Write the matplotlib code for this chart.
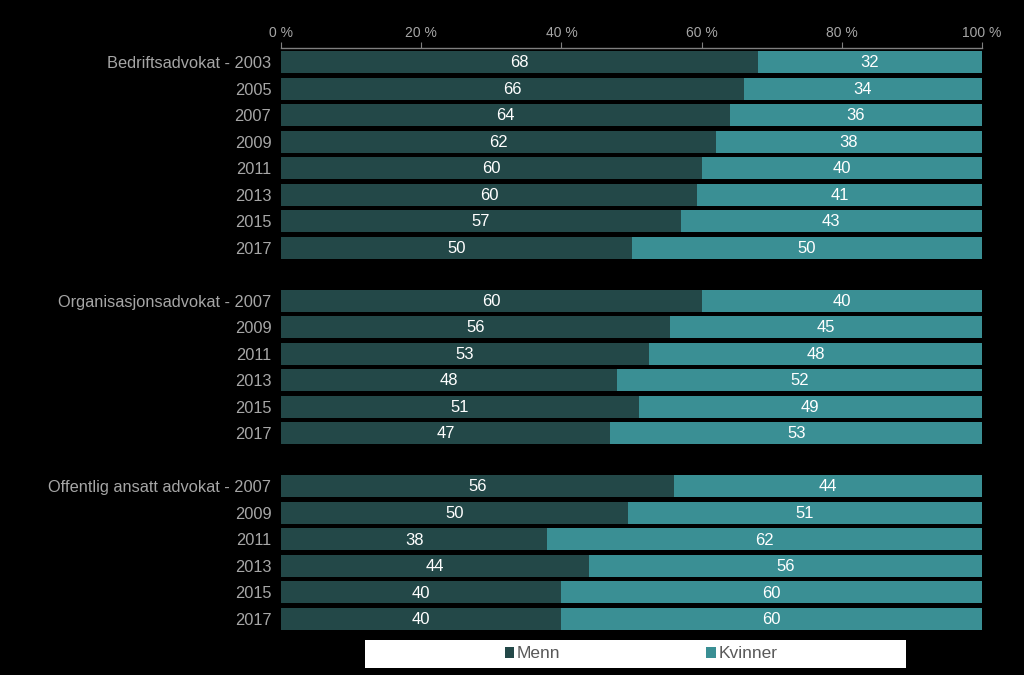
import matplotlib
matplotlib.use("Agg")
import matplotlib.pyplot as plt
from matplotlib.patches import Rectangle, Patch
import numpy as np

plt.rcParams['font.family'] = ['Liberation Sans', 'DejaVu Sans']

groups = ["Bedriftsadvokat", "Organisasjonsadvokat", "Offentlig ansatt advokat"]
years_bedrift = ["2003", "2005", "2007", "2009", "2011", "2013", "2015", "2017"]
menn_bedrift = [68, 66, 64, 62, 60, 60, 57, 50]
kvinner_bedrift = [32, 34, 36, 38, 40, 41, 43, 50]
years_org = ["2007", "2009", "2011", "2013", "2015", "2017"]
menn_org = [60, 56, 53, 48, 51, 47]
kvinner_org = [40, 45, 48, 52, 49, 53]
years_off = ["2007", "2009", "2011", "2013", "2015", "2017"]
menn_off = [56, 50, 38, 44, 40, 40]
kvinner_off = [44, 51, 62, 56, 60, 60]
xticks = [0, 20, 40, 60, 80, 100]
xticklabels = ["0 %", "20 %", "40 %", "60 %", "80 %", "100 %"]

c_menn = "#234848"
c_kvinner = "#3A8F94"
c_text = "#A6A6A6"

fig = plt.figure(figsize=(10.24, 6.75), dpi=100, facecolor="black")
ax = fig.add_axes([281/1024, 1-632/675, (982-281)/1024, (632-48)/675])
ax.set_facecolor("black")

pos = 0
ypos, labels, mv, kv = [], [], [], []
for gname, yrs, m, k in [(groups[0], years_bedrift, menn_bedrift, kvinner_bedrift),
                          (groups[1], years_org, menn_org, kvinner_org),
                          (groups[2], years_off, menn_off, kvinner_off)]:
    for i, (y, a, b) in enumerate(zip(yrs, m, k)):
        ypos.append(pos)
        labels.append(f"{gname} - {y}" if i == 0 else y)
        mv.append(a)
        kv.append(b)
        pos += 1
    pos += 1

mv = np.array(mv, float)
kv = np.array(kv, float)
tot = mv + kv
mp = mv / tot * 100
kp = kv / tot * 100

h = 0.83
ax.barh(ypos, mp, height=h, color=c_menn, label="Menn")
ax.barh(ypos, kp, left=mp, height=h, color=c_kvinner, label="Kvinner")
for y, a, b, la, lb in zip(ypos, mp, kp, mv, kv):
    ax.text(a/2, y + 0.03, f"{int(la)}", ha="center", va="center", color="white", fontsize=12)
    ax.text(a + b/2, y + 0.03, f"{int(lb)}", ha="center", va="center", color="white", fontsize=12)

ax.set_xlim(0, 100)
ax.set_ylim(ypos[-1] + 0.5, -0.53)
ax.set_yticks(ypos)
ax.set_yticklabels(labels, color=c_text, fontsize=11.8)
ax.tick_params(axis="y", length=0, pad=7)
ax.xaxis.tick_top()
ax.set_xticks(xticks)
ax.set_xticklabels(xticklabels, color=c_text, fontsize=10)
ax.tick_params(axis="x", colors="#7F7F7F", labelcolor=c_text, length=4, pad=2, direction="out")
for s in ["left", "right", "bottom"]:
    ax.spines[s].set_visible(False)
ax.spines["top"].set_color("#7F7F7F")
ax.spines["top"].set_linewidth(1)

fig.patches.append(Rectangle((365/1024, 7/675), 541/1024, 28/675, transform=fig.transFigure,
                             facecolor="white", edgecolor="none", zorder=0))
handles = [Patch(facecolor=c_menn), Patch(facecolor=c_kvinner)]
leg = fig.legend(handles, ["Menn", "Kvinner"], loc="center", bbox_to_anchor=(641/1024, 21/675),
                 ncol=2, frameon=False, fontsize=12.5, handlelength=0.55, handleheight=0.55,
                 handletextpad=0.15, columnspacing=8.4, labelcolor="#595959")

fig.savefig("out.png", dpi=100, facecolor="black")
